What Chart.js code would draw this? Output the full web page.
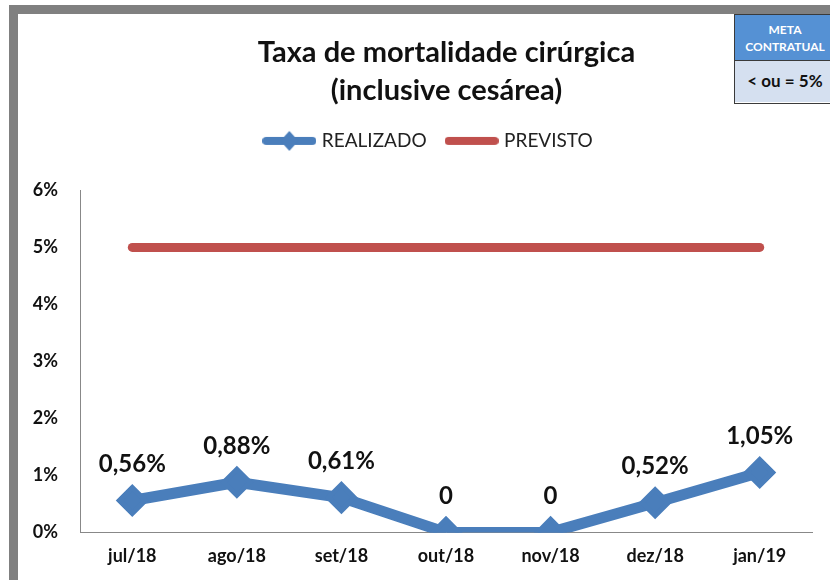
<!DOCTYPE html>
<html>
<head>
<meta charset="utf-8">
<script src="https://cdn.jsdelivr.net/npm/chart.js@4.4.1/dist/chart.umd.min.js"></script>
<style>
  body { margin: 0; background: #fff; }
  #wrap { position: relative; width: 830px; height: 580px; overflow: hidden; background: #fff; }
  #frame { position: absolute; left: 9px; top: 5px; width: 830px; height: 572px;
           border-left: 9px solid #808080; border-top: 9px solid #808080; border-bottom: 3px solid #808080; }
  #meta { position: absolute; left: 734px; top: 14px; width: 100px; height: 88px;
          border: 1px solid #3a3a3a; font-family: Lato, sans-serif; font-weight: bold; text-align: center; }
  #meta .top { height: 46px; background: #5591d4; color: #fff; font-size: 12px; line-height: 17px;
               padding-top: 6px; box-sizing: border-box; border-bottom: 1px solid #3a3a3a; }
  #meta .bot { height: 41px; background: #d5e0f0; color: #111; font-size: 17px; line-height: 40px; }
  canvas { position: absolute; left: 0; top: 0; }
</style>
</head>
<body>
<div id="wrap">
  <div id="frame"></div>
  <canvas id="grafico" width="830" height="580"></canvas>
  <div id="meta"><div class="top">META<br>CONTRATUAL</div><div class="bot">&lt; ou = 5%</div></div>
</div>
<script>
// dados
var meses = ['jul/18', 'ago/18', 'set/18', 'out/18', 'nov/18', 'dez/18', 'jan/19'];
var realizado = [0.56, 0.88, 0.61, 0, 0, 0.52, 1.05];
var previsto = [5, 5, 5, 5, 5, 5, 5];
var ticksY = [0, 1, 2, 3, 4, 5, 6];

var azul = '#4a7ebb';
var vermelho = '#c0504d';

function rotulo(v) {
    if (v === 0) return '0';
    return v.toFixed(2).replace('.', ',') + '%';
}

// icones da legenda
function iconeLegenda(cor, losango) {
    var c = document.createElement('canvas');
    c.width = 54; c.height = 22;
    var g = c.getContext('2d');
    g.strokeStyle = cor; g.lineWidth = 8; g.lineCap = 'round';
    g.beginPath(); g.moveTo(4, 11); g.lineTo(50, 11); g.stroke();
    if (losango) {
        g.fillStyle = cor;
        g.beginPath(); g.moveTo(27, 1); g.lineTo(36, 11); g.lineTo(27, 21); g.lineTo(18, 11); g.closePath(); g.fill();
    }
    return c;
}
var icones = [iconeLegenda(azul, true), iconeLegenda(vermelho, false)];

var rotulosValores = {
    id: 'rotulosValores',
    afterDatasetsDraw: function(chart) {
        var ctx = chart.ctx;
        var meta = chart.getDatasetMeta(0);
        ctx.save();
        ctx.font = 'bold 24px Lato';
        ctx.fillStyle = '#111';
        ctx.textAlign = 'center';
        ctx.textBaseline = 'middle';
        meta.data.forEach(function(pt, i) {
            ctx.fillText(rotulo(realizado[i]), pt.x, pt.y - 36);
        });
        ctx.restore();
    }
};

// desloca titulo e legenda (centrados como no original)
var ajustes = {
    id: 'ajustes',
    afterLayout: function(chart) {
        chart.titleBlock.left += 37;
        chart.titleBlock.right += 37;
        chart.legend.left += 20;
        chart.legend.right += 20;
        chart.legend.top -= 30;
        chart.legend.bottom -= 30;
    }
};

var ctx = document.getElementById('grafico').getContext('2d');
var grafico = new Chart(ctx, {
    type: 'line',
    data: {
        labels: meses,
        datasets: [{
            label: 'REALIZADO',
            data: realizado,
            borderColor: azul,
            backgroundColor: azul,
            borderWidth: 11,
            borderJoinStyle: 'round',
            pointStyle: 'rectRot',
            pointRadius: 13,
            pointBorderWidth: 5,
            pointBackgroundColor: azul,
            pointBorderColor: azul,
            tension: 0
        }, {
            label: 'PREVISTO',
            data: previsto,
            borderColor: vermelho,
            backgroundColor: vermelho,
            borderWidth: 9,
            borderCapStyle: 'round',
            pointRadius: 0,
            tension: 0
        }]
    },
    options: {
        responsive: false,
        animation: false,
        layout: { padding: { left: 0, right: 11, top: 0, bottom: 0 } },
        plugins: {
            title: {
                display: true,
                text: ['Taxa de mortalidade cirúrgica', '(inclusive cesárea)'],
                color: '#111',
                font: { family: 'Lato', size: 29, weight: 'bold', lineHeight: 1.3 },
                padding: { top: 34, bottom: 30 }
            },
            legend: {
                display: true,
                labels: {
                    usePointStyle: true,
                    pointStyleWidth: 46,
                    padding: 22,
                    color: '#222',
                    font: { family: 'Lato', size: 19 },
                    generateLabels: function(chart) {
                        var itens = Chart.defaults.plugins.legend.labels.generateLabels(chart);
                        itens.forEach(function(it, i) { it.pointStyle = icones[i]; });
                        return itens;
                    }
                }
            },
            tooltip: { enabled: false }
        },
        scales: {
            x: {
                offset: true,
                grid: { display: false, drawTicks: false },
                border: { display: true, color: '#888', width: 1 },
                ticks: { color: '#111', padding: 13, font: { family: 'Lato', size: 18, weight: 'bold' } }
            },
            y: {
                min: 0,
                max: 6,
                afterBuildTicks: function(scale) {
                    scale.ticks = ticksY.map(function(v) { return { value: v }; });
                },
                afterFit: function(scale) { scale.width = 80; },
                grid: { display: false, drawTicks: false },
                border: { display: true, color: '#888', width: 1 },
                ticks: {
                    color: '#111',
                    padding: 22,
                    font: { family: 'Lato', size: 18, weight: 'bold' },
                    callback: function(v) { return v + '%'; }
                }
            }
        }
    },
    plugins: [rotulosValores, ajustes]
});
</script>
</body>
</html>
